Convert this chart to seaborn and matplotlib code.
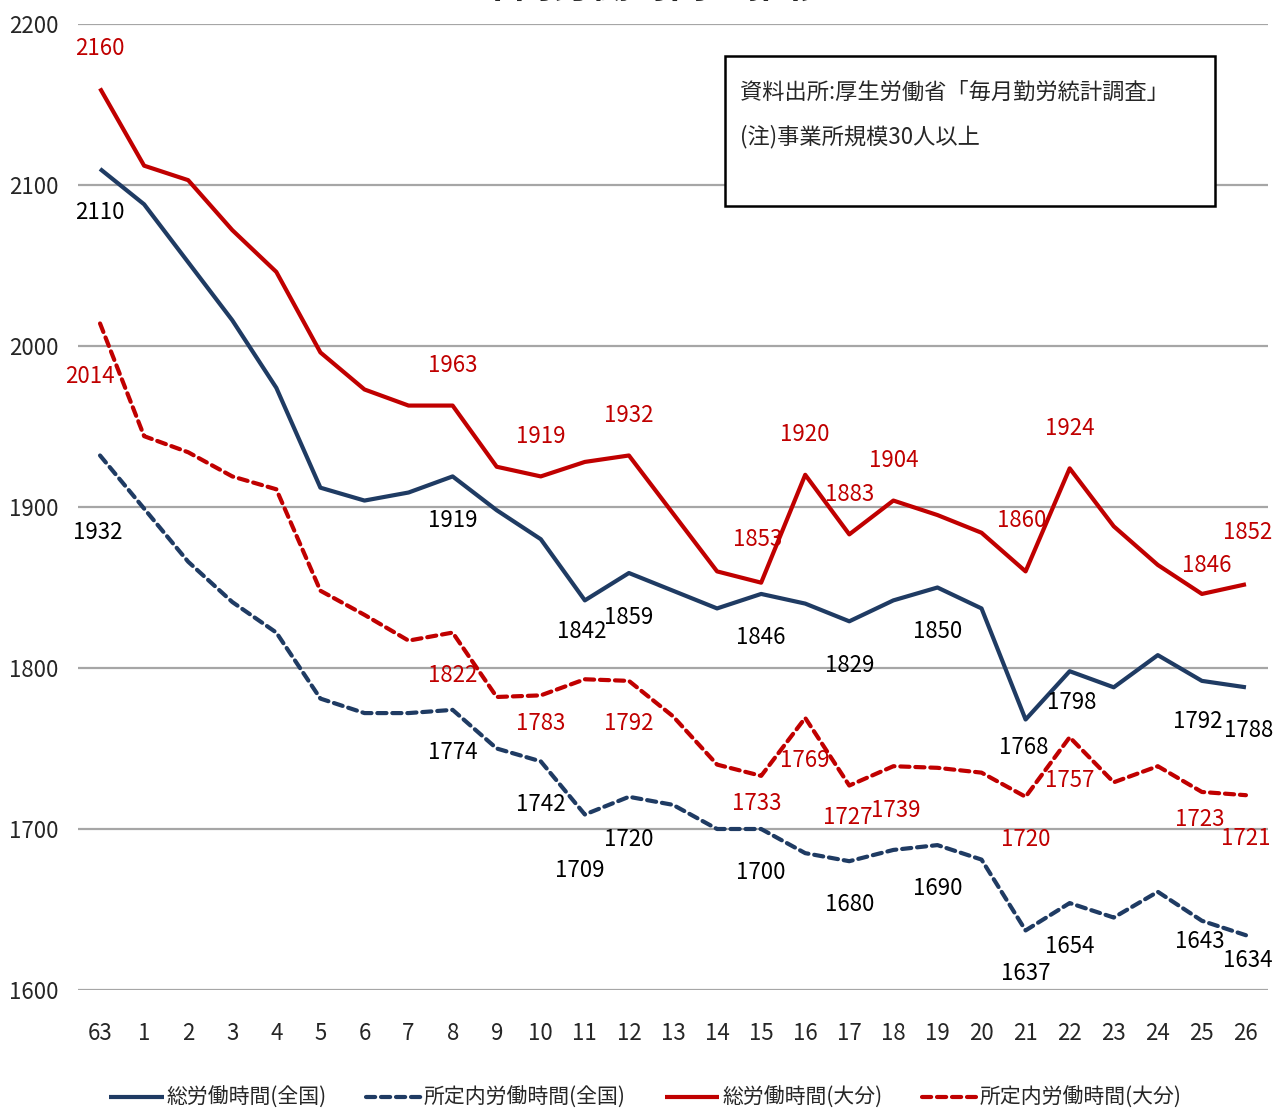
import matplotlib
matplotlib.use("Agg")
import matplotlib.pyplot as plt
from matplotlib.patches import Rectangle
import pandas as pd
import seaborn as sns

# 年度 (昭和63 -> 平成26)
years = ["63"] + [str(i) for i in range(1, 27)]

total_zenkoku = [2110, 2088, 2052, 2016, 1974, 1912, 1904, 1909, 1919, 1898,
                 1880, 1842, 1859, 1848, 1837, 1846, 1840, 1829, 1842, 1850,
                 1837, 1768, 1798, 1788, 1808, 1792, 1788]
shotei_zenkoku = [1932, 1899, 1866, 1841, 1822, 1781, 1772, 1772, 1774, 1750,
                  1742, 1709, 1720, 1715, 1700, 1700, 1685, 1680, 1687, 1690,
                  1681, 1637, 1654, 1645, 1661, 1643, 1634]
total_oita = [2160, 2112, 2103, 2072, 2046, 1996, 1973, 1963, 1963, 1925,
              1919, 1928, 1932, 1896, 1860, 1853, 1920, 1883, 1904, 1895,
              1884, 1860, 1924, 1888, 1864, 1846, 1852]
shotei_oita = [2014, 1944, 1934, 1919, 1911, 1848, 1833, 1817, 1822, 1782,
               1783, 1793, 1792, 1770, 1740, 1733, 1769, 1727, 1739, 1738,
               1735, 1720, 1757, 1729, 1739, 1723, 1721]

series_names = ["総労働時間(全国)", "所定内労働時間(全国)", "総労働時間(大分)", "所定内労働時間(大分)"]
series_values = [total_zenkoku, shotei_zenkoku, total_oita, shotei_oita]

# indices of points carrying a data label
labelled = {
    "総労働時間(全国)": [0, 8, 11, 12, 15, 17, 19, 21, 22, 25, 26],
    "所定内労働時間(全国)": [0, 8, 10, 11, 12, 15, 17, 19, 21, 22, 25, 26],
    "総労働時間(大分)": [0, 8, 10, 12, 15, 16, 17, 18, 21, 22, 25, 26],
    "所定内労働時間(大分)": [0, 8, 10, 12, 15, 16, 17, 18, 21, 22, 25, 26],
}

NAVY = "#1f3b63"
RED = "#c00000"
palette = {series_names[0]: NAVY, series_names[1]: NAVY,
           series_names[2]: RED, series_names[3]: RED}
dashes = {series_names[0]: "", series_names[1]: (2.2, 1.4),
          series_names[2]: "", series_names[3]: (2.2, 1.4)}
label_colors = {series_names[0]: "black", series_names[1]: "black",
                series_names[2]: RED, series_names[3]: RED}

# label offsets in pixels: default per series, then individual tweaks
default_dy = {series_names[0]: -44, series_names[1]: -43,
              series_names[2]: 40, series_names[3]: -43}
tweaks = {
    series_names[0]: {11: (-3, -31), 21: (-2, -28), 22: (2, -31), 25: (-4, -41), 26: (3, -43)},
    series_names[1]: {0: (-2, -77), 11: (-5, -56), 25: (-2, -21), 26: (2, -25)},
    series_names[2]: {21: (-4, 51), 25: (5, 28), 26: (2, 52), 15: (-4, 43)},
    series_names[3]: {0: (-10, -53), 10: (0, -28), 15: (-4, -28), 17: (-2, -32), 18: (2, -44),
                      25: (-2, -28)},
}

rows = []
for name, vals in zip(series_names, series_values):
    for i, v in enumerate(vals):
        rows.append({"idx": i, "year": years[i], "hours": v, "series": name})
df = pd.DataFrame(rows)

sns.set_theme(style="white")
plt.rcParams["font.family"] = ["Noto Sans CJK JP", "DejaVu Sans"]

fig = plt.figure(figsize=(12.73, 11.14), dpi=100)
ax = fig.add_axes([78 / 1273, 1 - 990 / 1114, (1268 - 78) / 1273, (990 - 24) / 1114])

sns.lineplot(data=df, x="idx", y="hours", hue="series", style="series",
             hue_order=series_names, style_order=series_names,
             palette=palette, dashes=dashes, linewidth=3.0, ax=ax)
for line in ax.get_lines():
    line.set_dash_capstyle("round")
    line.set_solid_capstyle("butt")

for name, vals in zip(series_names, series_values):
    for i in labelled[name]:
        dx, dy = tweaks[name].get(i, (0, default_dy[name]))
        ax.annotate(str(vals[i]), (i, vals[i]), xytext=(dx, dy), textcoords="offset pixels",
                    ha="center", va="center", fontsize=16, color=label_colors[name])

ax.set_xlim(-0.5, len(years) - 0.5)
ax.set_ylim(1600, 2200)
ax.set_xticks(range(len(years)))
ax.set_xticklabels(years)
ax.set_yticks([1600, 1700, 1800, 1900, 2000, 2100, 2200])
ax.tick_params(axis="x", length=0, pad=23, labelsize=16)
ax.tick_params(axis="y", length=0, pad=14, labelsize=16)
ax.yaxis.grid(True, color="#a6a6a6", linewidth=1.6)
ax.xaxis.grid(False)
for s in ax.spines.values():
    s.set_visible(False)
ax.set_xlabel("")
ax.set_ylabel("")

handles, labels = ax.get_legend_handles_labels()
ax.legend(handles, labels, loc="center", bbox_to_anchor=(0.507, 1 - 1098 / 1114),
          bbox_transform=fig.transFigure, ncol=4, frameon=False, fontsize=15,
          handlelength=2.6, handletextpad=0.15, columnspacing=1.9)

# source box
fig.patches.append(Rectangle((725 / 1273, 1 - 206 / 1114), (1215 - 725) / 1273, (206 - 56) / 1114,
                             transform=fig.transFigure, facecolor="white", edgecolor="black",
                             linewidth=1.8, zorder=5))
fig.text(740 / 1273, 1 - 92 / 1114, "資料出所:厚生労働省「毎月勤労統計調査」", fontsize=16,
         va="center", ha="left", zorder=6)
fig.text(740 / 1273, 1 - 137 / 1114, "(注)事業所規模30人以上", fontsize=16,
         va="center", ha="left", zorder=6)

# title, mostly cut off by the top edge as in the original
fig.text(650 / 1273, 1 - 6 / 1114, "年間労働時間の推移", fontsize=28, fontweight="bold",
         ha="center", va="bottom")

fig.savefig("out.png", dpi=100)
